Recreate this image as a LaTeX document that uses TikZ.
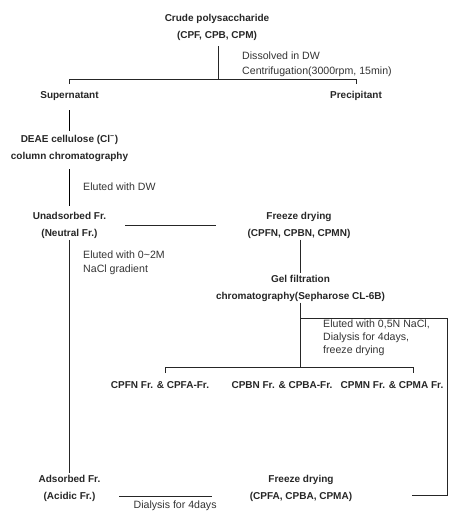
\documentclass[tikz,border=0pt]{standalone}
\usepackage{fontspec}
\setmainfont{Liberation Sans}
\usepackage{tikz}
\usetikzlibrary{calc}

\begin{document}
\begin{tikzpicture}[x=0.85pt,y=-0.85pt,
  stage/.style={font=\fontsize{8.5}{14.5}\selectfont\bfseries,align=center,inner sep=1pt,text=black!85},
  note/.style={font=\fontsize{9}{11}\selectfont,align=left,anchor=west,inner sep=0pt,text=black!80},
  flow/.style={line width=0.8pt,draw=black!85}]
\useasboundingbox (0,0) rectangle (450,518);
% fractions
\node[stage] (crude) at (217,27) {Crude polysaccharide\\(CPF, CPB, CPM)};
\node[stage] (sup) at (69.5,96) {Supernatant};
\node[stage] (prec) at (356,96) {Precipitant};
\node[stage] (deae) at (69.5,148) {DEAE cellulose (Cl\textsuperscript{\char"2212})\\column chromatography};
\node[stage] (unads) at (69.5,225) {Unadsorbed Fr.\\(Neutral Fr.)};
\node[stage] (fd1) at (299,225) {Freeze drying\\(CPFN, CPBN, CPMN)};
\node[stage] (gel) at (300.5,288) {Gel filtration\\chromatography(Sepharose CL-6B)};
\foreach \n/\x/\lab in {cpf/160/CPFN Fr. \& CPFA-Fr.,cpb/282/CPBN Fr. \& CPBA-Fr.,cpm/392/CPMN Fr. \& CPMA Fr.}{
  \node[stage] (\n) at (\x,385) {\lab};
}
\node[stage] (ads) at (69.5,488) {Adsorbed Fr.\\(Acidic Fr.)};
\node[stage] (fd2) at (301,488) {Freeze drying\\(CPFA, CPBA, CPMA)};
% conditions
\node[note] (dis) at (242,56) {Dissolved in DW};
\node[note] (cen) at (242,72) {Centrifugation(3000rpm, 15min)};
\node[note] (eldw) at (83,187) {Eluted with DW};
\node[note,font=\fontsize{9}{12}\selectfont] (elgr) at (83,263) {Eluted with 0\textasciitilde 2M\\NaCl gradient};
\node[note] (elna) at (323,338) {Eluted with 0,5N NaCl,\\Dialysis for 4days,\\freeze drying};
% junctions
\coordinate (s1) at (218.5,79.5);
\coordinate (a1) at (69.5,110);
\coordinate (a2) at (69.5,131);
\coordinate (a3) at (69.5,169);
\coordinate (a4) at (69.5,206);
\coordinate (g2) at (300.5,318.5);
\coordinate (g3) at (300.5,367.5);
\coordinate (bl) at (165.5,373);
\coordinate (br) at (413.5,373);
\coordinate (rc) at (447.5,495.5);
\coordinate (re) at (412,495.5);
% lines
\draw[flow,shorten <=4pt] (crude.south -| s1) -- (s1);
\draw[flow,shorten <=5pt,shorten >=5pt] (sup.north) |- (s1) -| (prec.north);
\draw[flow,draw=black] (a1) -- (a2);
\draw[flow,draw=black] (a3) -- (a4);
\draw[flow] (unads.south) -- (ads.north);
\draw[flow,shorten <=15pt,shorten >=26pt] (unads.east) -- (fd1.west);
\draw[flow] (fd1.south -| gel.north) -- (gel.north);
\draw[flow] (gel.south) -- (g3);
\draw[flow] (bl) |- (g3) -| (br);
\draw[flow] (g2) -| (rc) -- (re);
\draw[flow,shorten <=15pt,shorten >=31pt] ([yshift=-7.5pt]ads.east) -- ([yshift=-7.5pt]fd2.west)
  node[note,anchor=north,midway,yshift=-3pt] (dia) {Dialysis for 4days};
\end{tikzpicture}
\end{document}
